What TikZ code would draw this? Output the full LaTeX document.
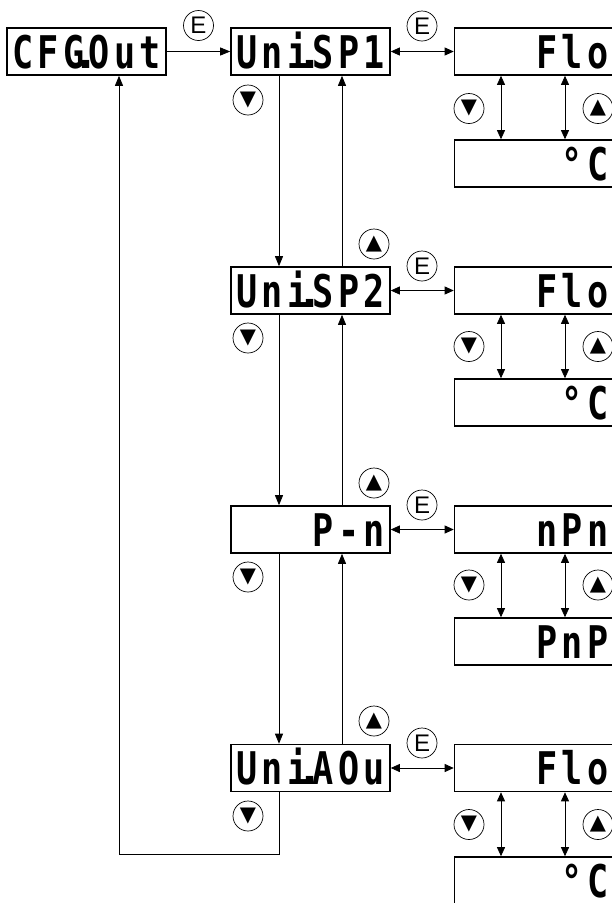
\documentclass[tikz,border=0pt]{standalone}
\usepackage{fontspec}
\usepackage{tikz}
\usetikzlibrary{arrows.meta}

\newfontfamily\lcdfont{DejaVu Sans Mono}
\newfontfamily\keyfont{DejaVu Sans}
\newfontfamily\efont{Liberation Sans}

% one display cell per character, the dot takes no cell
\makeatletter
\def\lcd@dot{.}
\newcommand{\lcd}[1]{\@tfor\lcd@c:=#1\do{\ifx\lcd@c\lcd@dot\makebox[0pt]{.}\else\makebox[25.5pt]{\scalebox{0.78}[1]{\lcd@c}}\fi}}
\makeatother

\begin{document}
\begin{tikzpicture}[
x=1pt,y=-1pt,
display/.style={draw,line width=1.6pt,text width=153pt,align=right,inner xsep=3pt,inner ysep=0pt,minimum height=47pt,text height=33pt,text depth=0pt,font=\lcdfont\bfseries\fontsize{45}{45}\selectfont},
key/.style={circle,draw,line width=0.7pt,minimum size=30pt,inner sep=0pt,font=\keyfont\fontsize{21}{21}\selectfont},
ekey/.style={circle,draw,line width=0.7pt,minimum size=30pt,inner sep=0pt,font=\efont\fontsize{24}{24}\selectfont},
arrow/.style={-{Triangle[length=10pt,width=8pt]},line width=0.8pt},
twoarrow/.style={{Triangle[length=9pt,width=8pt]}-{Triangle[length=9pt,width=8pt]},line width=0.8pt} ]

\useasboundingbox (0,0) rectangle (612,903);

\clip (0,0) rectangle (612,903);

\node[display] (cfg) at (86.5,51.5) {\lcd{CFG.Out}};

\node[display] (sp1) at (310.5,51.5) {\lcd{Uni.SP1}};

\node[display] (sp2) at (310.5,290.5) {\lcd{Uni.SP2}};

\node[display] (pn) at (310.5,529.5) {\lcd{P-n}};

\node[display] (aou) at (310.5,768) {\lcd{Uni.AOu}};

\node[display] (flo1) at (534,51.5) {\lcd{Flo}};

\node[display] (deg1) at (534,163.5) {\lcd{°C}};

\node[display] (flo2) at (534,290.5) {\lcd{Flo}};

\node[display] (deg2) at (534,402.5) {\lcd{°C}};

\node[display] (npn) at (534,529.5) {\lcd{nPn}};

\node[display] (pnp) at (534,641.5) {\lcd{PnP}};

\node[display] (flo3) at (534,768) {\lcd{Flo}};

\node[display] (deg3) at (534,880.5) {\lcd{°C}};

\coordinate (back) at (119,854);

% E keys
\node[ekey] (e0) at (198.5,25.5) {E};

\node[ekey] (e1) at (422,26) {E};

\node[ekey] (e2) at (422,266) {E};

\node[ekey] (e3) at (422,505) {E};

\node[ekey] (e4) at (422,743) {E};

% down / up keys, middle column
\node[key] (dn1) at (248,100) {▼};

\node[key] (dn2) at (248,338) {▼};

\node[key] (dn3) at (248,577) {▼};

\node[key] (dn4) at (248,816) {▼};

\node[key] (up2) at (374,244) {▲};

\node[key] (up3) at (374,483) {▲};

\node[key] (up4) at (374,721) {▲};

% down / up keys, right column
\node[key] (rdn1) at (469,108.5) {▼};

\node[key] (rdn2) at (469,346.5) {▼};

\node[key] (rdn3) at (469,585) {▼};

\node[key] (rdn4) at (469,824.5) {▼};

\node[key] (rup1) at (598,108.5) {▲};

\node[key] (rup2) at (598,346.5) {▲};

\node[key] (rup3) at (598,585) {▲};

\node[key] (rup4) at (598,824.5) {▲};

\draw[arrow] (cfg) -- (sp1);

\draw[twoarrow] (sp1) -- (flo1);

\draw[twoarrow] (sp2) -- (flo2);

\draw[twoarrow] (pn) -- (npn);

\draw[twoarrow] (aou) -- (flo3);

\draw[arrow] ([xshift=-31.5pt]sp1.south) -- ([xshift=-31.5pt]sp2.north);

\draw[arrow] ([xshift=31.5pt]sp2.north) -- ([xshift=31.5pt]sp1.south);

\draw[arrow] ([xshift=-31.5pt]sp2.south) -- ([xshift=-31.5pt]pn.north);

\draw[arrow] ([xshift=31.5pt]pn.north) -- ([xshift=31.5pt]sp2.south);

\draw[arrow] ([xshift=-31.5pt]pn.south) -- ([xshift=-31.5pt]aou.north);

\draw[arrow] ([xshift=31.5pt]aou.north) -- ([xshift=31.5pt]pn.south);

\draw[arrow] ([xshift=-31.5pt]aou.south) |- (back) -- ([xshift=32.5pt]cfg.south);

\draw[twoarrow] ([xshift=-33pt]flo1.south) -- ([xshift=-33pt]deg1.north);

\draw[twoarrow] ([xshift=31pt]flo1.south) -- ([xshift=31pt]deg1.north);

\draw[twoarrow] ([xshift=-33pt]flo2.south) -- ([xshift=-33pt]deg2.north);

\draw[twoarrow] ([xshift=31pt]flo2.south) -- ([xshift=31pt]deg2.north);

\draw[twoarrow] ([xshift=-33pt]npn.south) -- ([xshift=-33pt]pnp.north);

\draw[twoarrow] ([xshift=31pt]npn.south) -- ([xshift=31pt]pnp.north);

\draw[twoarrow] ([xshift=-33pt]flo3.south) -- ([xshift=-33pt]deg3.north);

\draw[twoarrow] ([xshift=31pt]flo3.south) -- ([xshift=31pt]deg3.north);

\end{tikzpicture}
\end{document}
